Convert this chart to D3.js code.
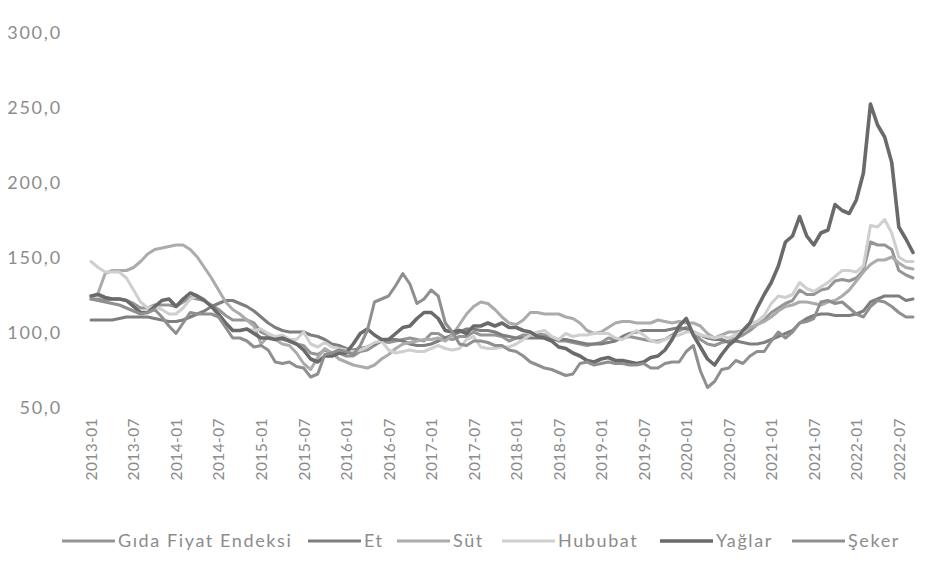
<!DOCTYPE html>
<html><head><meta charset="utf-8">
<script src="https://cdn.jsdelivr.net/npm/d3@7"></script>
<style>
html,body{margin:0;padding:0;background:#fff;}
svg text{font-family:Lato,"Open Sans",sans-serif;fill:#8c8c8c;}
</style></head>
<body><svg id="c" width="942" height="580"></svg>
<script>
// categories: monthly 2013-01 .. 2022-09
const months = d3.timeMonth.range(new Date(2013,0,1), new Date(2022,9,1)).map(d3.timeFormat("%Y-%m"));
const tickLabels = ["2013-01","2013-07","2014-01","2014-07","2015-01","2015-07","2016-01","2016-07","2017-01","2017-07","2018-01","2018-07","2019-01","2019-07","2020-01","2020-07","2021-01","2021-07","2022-01","2022-07"];
const yTicks = [50,100,150,200,250,300];
const seriesNames = ["Gıda Fiyat Endeksi","Et","Süt","Hububat","Yağlar","Şeker"];

const gida = [122,122,121,122,122,121,119,116,116,118,118,118,
117,120,123,122,121,118,115,111,108,108,108,106,
100,98,96,95,94,92,91,86,85,88,86,86,
84,84,87,88,91,94,93,94,95,96,95,94,
99,99,96,95,97,97,100,98,98,98,97,94,
96,98,98,99,98,96,94,94,93,92,91,92,
93,96,95,96,97,96,95,94,94,95,98,101,
103,100,95,92,91,93,94,96,98,101,105,108,
113,116,119,121,128,125,125,128,129,134,135,134,
136,141,160,158,158,155,141,138,136];
const et = [108,108,108,108,109,110,110,110,110,109,108,107,
107,108,110,112,114,117,119,121,121,119,117,114,
110,106,103,101,100,100,100,98,97,95,92,91,
89,88,89,90,92,94,95,95,94,92,91,91,
92,94,96,98,100,102,102,101,101,100,98,97,
96,96,96,96,96,95,95,95,94,93,92,92,
92,93,94,97,99,100,101,101,101,101,102,103,
102,100,98,96,95,95,93,94,93,92,92,93,
95,97,99,101,106,109,111,112,112,111,111,111,
112,114,120,122,124,124,124,121,122];
const sut = [123,126,139,141,141,141,143,147,152,155,156,157,
158,158,155,150,143,136,128,120,115,112,108,104,
92,97,95,92,91,86,79,75,83,89,86,82,
80,78,77,76,78,82,85,89,92,93,94,95,
95,96,94,98,105,112,117,120,119,115,110,106,
105,108,113,113,112,112,112,110,109,106,101,99,
100,103,106,107,107,106,106,106,108,107,106,107,
106,106,104,99,96,98,100,100,101,103,105,107,
110,114,117,118,120,120,119,118,120,121,124,128,
134,140,145,148,148,150,146,143,142];
const hububat = [147,143,140,140,140,136,128,120,116,117,115,112,
112,116,122,124,122,117,110,106,101,101,102,101,
102,99,97,98,95,95,100,92,90,93,90,89,
88,87,88,90,93,94,88,86,87,88,87,87,
89,91,89,88,89,95,97,90,89,89,90,90,
92,95,98,100,101,97,95,99,97,98,98,99,
99,99,96,95,98,101,98,94,93,95,97,98,
100,100,98,97,96,97,96,98,101,106,107,111,
119,124,123,125,133,129,127,130,133,137,141,141,
140,144,171,170,175,166,150,147,147];
const yaglar = [124,125,123,122,122,121,117,113,113,117,121,122,
117,122,126,124,121,117,112,106,101,101,102,99,
96,96,95,96,94,92,88,82,80,84,84,86,
86,92,99,102,98,95,95,99,103,104,109,113,
113,109,101,100,101,99,104,104,106,104,106,103,
103,101,100,97,96,94,90,89,86,84,81,80,
82,83,81,81,80,79,80,83,84,88,95,104,
109,98,90,82,78,85,91,95,101,106,116,125,
133,144,160,164,177,164,158,166,168,185,181,179,
188,206,252,238,230,213,170,162,153];
const seker = [122,121,120,119,118,116,114,112,113,115,110,104,
99,106,113,112,112,112,110,103,96,96,94,90,
91,88,80,79,80,77,76,70,72,85,86,88,
87,85,91,101,120,122,124,131,139,132,119,122,
128,124,106,100,92,91,94,94,93,91,91,88,
87,84,80,78,76,75,73,71,72,79,80,78,
79,80,79,79,78,78,79,76,76,79,80,80,
87,91,74,63,67,75,76,81,79,84,87,87,
94,100,96,100,106,107,109,120,121,119,120,116,
112,110,117,121,120,117,113,110,110];

const seriesValues = [gida, et, sut, hububat, yaglar, seker];
const colors = ["#959595","#7e7e7e","#ababab","#cfcfcf","#6a6a6a","#8f8f8f"];
const widths = [3,3,3,3,3.6,3];

const svg = d3.select("#c");
const x = d3.scalePoint().domain(months).range([91, 913]);
const y = d3.scaleLinear().domain([50,300]).range([407, 32]);

// y axis
const yAxis = d3.axisLeft(y).tickValues(yTicks).tickSize(0).tickPadding(0)
  .tickFormat(v => d3.format(".1f")(v).replace(".", ","));
const gy = svg.append("g").attr("transform","translate(62,0)").call(yAxis);
gy.select(".domain").remove();
gy.selectAll("text").style("font-size","18px").style("letter-spacing","1.8px").attr("dy","0.35em").attr("fill","#8c8c8c");

// x axis
const xAxis = d3.axisBottom(x).tickValues(tickLabels).tickSize(0).tickPadding(0);
const gx = svg.append("g").attr("transform","translate(0,418)").call(xAxis);
gx.select(".domain").remove();
gx.selectAll("text").style("font-size","15.5px").style("letter-spacing","0.4px")
  .attr("text-anchor","end").attr("transform","rotate(-90)")
  .attr("x",0).attr("y",0).attr("dy","0.35em").attr("fill","#8c8c8c");

// lines
const line = d3.line().x((d,i) => x(months[i])).y(d => y(d)).curve(d3.curveLinear);
seriesValues.forEach((vals, k) => {
  svg.append("path").datum(vals).attr("d", line)
    .attr("fill","none").attr("stroke", colors[k]).attr("stroke-width", widths[k])
    .attr("stroke-linejoin","round").attr("stroke-linecap","round");
});

// legend
const legendX = [62, 308, 397, 502, 660, 792];
const lg = svg.append("g").attr("transform","translate(0,541)");
seriesNames.forEach((n, k) => {
  const g = lg.append("g").attr("transform", `translate(${legendX[k]},0)`);
  g.append("line").attr("x1",0).attr("x2",53).attr("y1",0).attr("y2",0)
    .attr("stroke", colors[k]).attr("stroke-width", widths[k]);
  g.append("text").attr("x",56).attr("y",0).attr("dy","0.35em")
    .style("font-size","18px").style("letter-spacing","1.6px").text(n);
});
</script></body></html>
